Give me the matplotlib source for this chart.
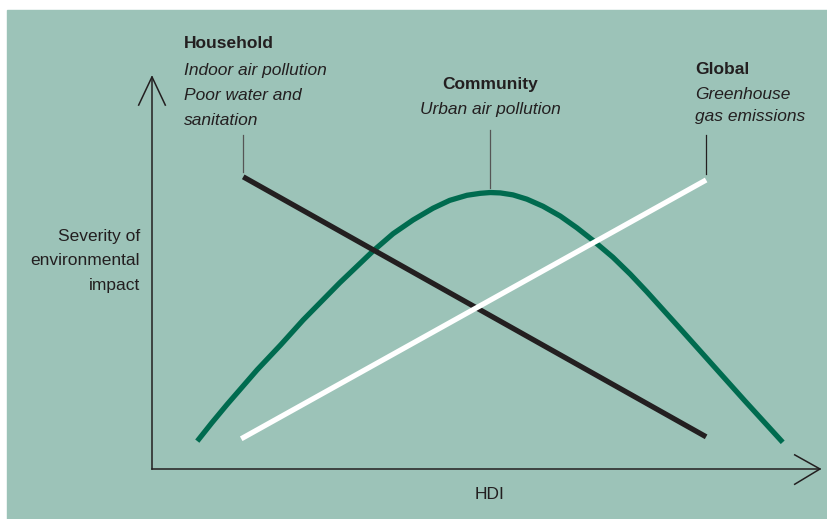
import matplotlib.pyplot as plt
import numpy as np

# Conceptual chart: severity of environmental impact vs HDI
household_hdi = [13.7, 83.2]
household_sev = [74.5, 8.2]

global_hdi = [13.4, 83.2]
global_sev = [7.7, 73.7]

community_hdi = [6.8, 9.0, 11.3, 15.8, 19.3, 22.7, 28.2, 33.2, 36.2, 39.2, 42.2, 44.7,
                 47.3, 49.3, 50.8, 52.3, 54.2, 56.3, 58.7, 61.3, 63.8, 66.2, 69.2, 71.8,
                 74.3, 79.3, 84.2, 89.0, 94.7]
community_sev = [7.1, 11.8, 16.5, 25.3, 31.6, 38.0, 47.5, 55.6, 60.0, 63.5, 66.5, 68.5,
                 69.8, 70.3, 70.5, 70.4, 69.9, 68.8, 67.0, 64.5, 61.5, 58.3, 54.0, 49.7,
                 45.2, 35.8, 26.5, 17.4, 6.8]

y_label = ["Severity of", "environmental", "impact"]
x_label = "HDI"

BG = "#9cc3b8"
GREEN = "#006b4f"
DARK = "#231f20"

plt.rcParams['font.family'] = ['Liberation Sans', 'DejaVu Sans']

fig = plt.figure(figsize=(8.28, 5.19), dpi=100)
fig.patch.set_facecolor("white")
ax = fig.add_axes([0, 0, 1, 1])
ax.set_xlim(-22.82, 101.5)
ax.set_ylim(-12.76, 119.6)
ax.axis("off")

# teal panel
ax.add_patch(plt.Rectangle((-21.8, -12.76), 130, 129.8, color=BG, zorder=0))

# axes with open arrow heads
ax.plot([0, 0], [0, 100], color=DARK, lw=1.1)
ax.plot([-2.0, 0, 2.0], [92.8, 100, 92.8], color=DARK, lw=1.1)
ax.plot([0, 100.3], [0, 0], color=DARK, lw=1.1)
ax.plot([96.5, 100.3, 96.5], [3.6, 0, -3.9], color=DARK, lw=1.1)

# curves
ax.plot(community_hdi, community_sev, color=GREEN, lw=3.8, solid_capstyle="butt",
        solid_joinstyle="round", zorder=3)
ax.plot(household_hdi, household_sev, color=DARK, lw=3.8, solid_capstyle="butt", zorder=4)
ax.plot(global_hdi, global_sev, color="white", lw=3.8, solid_capstyle="butt", zorder=5)

# leader lines
ax.plot([household_hdi[0]] * 2, [75.8, 85.2], color="#555555", lw=0.9)
ax.plot([50.75, 50.75], [71.6, 86.5], color="#555555", lw=0.9)
ax.plot([global_hdi[1]] * 2, [75.2, 85.2], color=DARK, lw=0.9)

# labels
fs = 12.5
def line(x, y, s, ha="left", **kw):
    ax.text(x, y, s, fontsize=fs, color=DARK, ha=ha, va="center", **kw)

line(4.8, 108.4, "Household", fontweight="bold")
line(4.8, 101.5, "Indoor air pollution", style="italic")
line(4.8, 95.2, "Poor water and", style="italic")
line(4.8, 88.8, "sanitation", style="italic")

line(50.75, 98.0, "Community", ha="center", fontweight="bold")
line(50.75, 91.8, "Urban air pollution", ha="center", style="italic")

line(81.5, 101.8, "Global", fontweight="bold")
line(81.5, 95.4, "Greenhouse", style="italic")
line(81.5, 89.8, "gas emissions", style="italic")

for y, s in zip([59.4, 53.1, 46.9], y_label):
    line(-1.8, y, s, ha="right")
line(50.75, -6.4, x_label, ha="center")

fig.savefig("out.png", dpi=100, facecolor="white")
